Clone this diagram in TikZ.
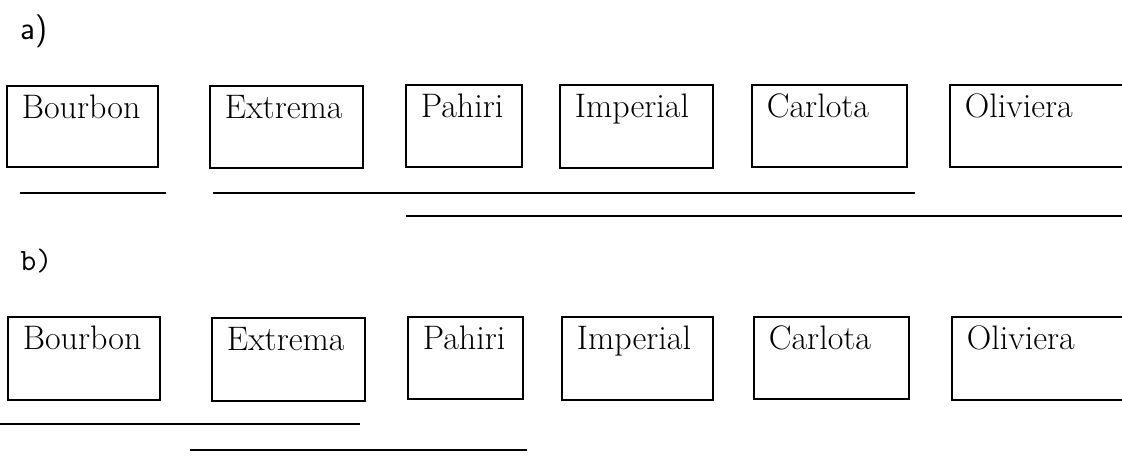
\documentclass[tikz,border=0pt]{standalone}
\usepackage{fontspec}
\tikzset{
  box/.style={draw, line width=0.8pt, inner sep=0pt, outer sep=0pt, anchor=north west},
  lbl/.style={anchor=base west, inner sep=0pt, font=\fontsize{17pt}{20pt}\selectfont},
  partlbl/.style={anchor=base west, inner sep=0pt},
  rule/.style={line width=0.9pt},
}
\newcommand\mkbox[6]{%
  \node[box, minimum width={(#4-#2)*0.5pt}, minimum height={(#5-#3)*0.5pt}] (#1) at (#2,#3) {};
  \node[lbl] (#1t) at ([shift={(14.5,32.5)}]#1.north west) {#6};
}
\begin{document}
\begin{tikzpicture}[x=0.5pt, y=-0.5pt]
  \useasboundingbox (0,0) rectangle (1122,469);
  \begin{scope}
    \clip (0,0) rectangle (1122,469);
    % part a
    \node[partlbl, font=\sffamily\fontsize{16.5pt}{19pt}\selectfont] (pa) at (20,40) {a)};
    \mkbox{a1}{7}{86}{158}{167}{Bourbon}
    \mkbox{a2}{210}{86}{363}{168}{Extrema}
    \mkbox{a3}{406}{85}{522}{167}{Pahiri}
    \mkbox{a4}{560}{85}{713}{168}{Imperial}
    \mkbox{a5}{752}{85}{907}{167}{Carlota}
    \mkbox{a6}{950}{85}{1145}{167}{Oliviera}
    \coordinate (la1s) at (20,193);  \coordinate (la1e) at (166,193);
    \coordinate (la2s) at (213,193); \coordinate (la2e) at (915,193);
    \coordinate (la3s) at (406,216); \coordinate (la3e) at (1122,216);
    \draw[rule] (la1s) -- (la1e);
    \draw[rule] (la2s) -- (la2e);
    \draw[rule] (la3s) -- (la3e);
    % part b
    \node[partlbl, font=\ttfamily\fontsize{15.5pt}{18pt}\selectfont] (pb) at (20,271) {b)};
    \mkbox{b1}{8}{317}{160}{400}{Bourbon}
    \mkbox{b2}{212}{318}{365}{401}{Extrema}
    \mkbox{b3}{408}{317}{523}{399}{Pahiri}
    \mkbox{b4}{562}{317}{713}{400}{Imperial}
    \mkbox{b5}{754}{317}{909}{399}{Carlota}
    \mkbox{b6}{952}{317}{1145}{400}{Oliviera}
    \coordinate (lb1s) at (0,424);   \coordinate (lb1e) at (360,424);
    \coordinate (lb2s) at (190,450); \coordinate (lb2e) at (527,450);
    \draw[rule] (lb1s) -- (lb1e);
    \draw[rule] (lb2s) -- (lb2e);
  \end{scope}
\end{tikzpicture}
\end{document}
